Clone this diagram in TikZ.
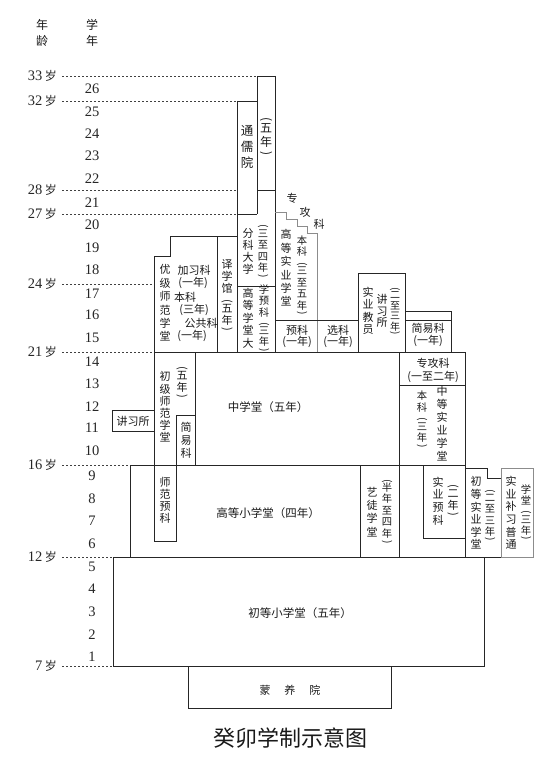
\documentclass[tikz,border=0pt]{standalone}
\usepackage{graphicx}
\usepackage{fontspec}
\setmainfont{Liberation Serif}
\newfontfamily\cjk{Noto Sans CJK SC}
\newcommand\lpv{\rotatebox[origin=c]{-90}{(}}
\newcommand\rpv{\rotatebox[origin=c]{-90}{)}}
\begin{document}
\begin{tikzpicture}[x=1pt,y=-1pt,
  ln/.style={line width=0.8pt, draw=black!85},
  gln/.style={line width=0.9pt, draw=black!45},
  guide/.style={line width=0.6pt, draw=black!75, dash pattern=on 2pt off 2pt},
  vt/.style={align=center, inner sep=0pt, text=black!90, font=\cjk\fontsize{11}{#1}\selectfont},
  vt/.default=13,
  vs/.style={align=center, inner sep=0pt, text=black!90, font=\cjk\fontsize{10.3}{#1}\selectfont},
  ht/.style={inner sep=0pt, text=black!90, font=\cjk\fontsize{11}{13}\selectfont},
  num/.style={inner sep=0pt, text=black!85, font=\fontsize{14.5}{16}\selectfont},
  agel/.style={inner sep=0pt, anchor=east, text=black!85, font=\fontsize{14.5}{16}\selectfont}]
\path[use as bounding box] (0,0) rectangle (547,762);

% header
\node[vt=16, font=\cjk\fontsize{12}{16}\selectfont] (hage) at (42,33) {年\\龄};
\node[vt=16, font=\cjk\fontsize{12}{16}\selectfont] (hyear) at (92,33) {学\\年};

% year numbers
\foreach \n/\y in {26/89,25/112,24/134,23/156,22/179,21/203,20/225,19/248,18/270,17/294,16/315,15/338,14/362,13/384,12/407,11/428,10/451,9/476,8/499,7/521,6/544,5/567,4/589,3/612,2/635,1/657}
  \node[num] (yr\n) at (92,\y) {\n};

% age labels and guide lines
\foreach \a/\y/\xe in {33/76/257,32/101/237,28/190/237,27/214/237,24/284/154,21/352/154,16/465/130,12/557/113,7/666/113}{
  \node[agel] (age\a) at (57,\y) {\a\,{\cjk\fontsize{12}{14}\selectfont 岁}};
  \draw[guide] (62,\y) -- (\xe,\y);
}

% ---------- box outlines ----------
\draw[ln] (257,76) -- (275,76);
\draw[ln] (237,101) -- (257,101);
\draw[ln] (257,190) -- (275,190);
\draw[ln] (237,214) -- (257,214);
\draw[ln] (257,76) -- (257,214);
\draw[ln] (237,101) -- (237,352);
\draw[ln] (275,76) -- (275,352);
\draw[ln] (237,286) -- (275,286);
\draw[ln] (154,352) -- (154,256) -- (170,256) -- (170,236) -- (237,236);
\draw[ln] (217,236) -- (217,352);
\draw[gln] (275,212) -- (286,212) -- (286,219) -- (297,219) -- (297,226) -- (307,226) -- (307,233) -- (317,233) -- (317,352);
\draw[ln] (275,320) -- (358,320);
\draw[ln] (358,352) -- (358,273) -- (405,273) -- (405,352);
\draw[ln] (405,311) -- (451,311) -- (451,352);
\draw[ln] (405,320) -- (451,320);
\draw[ln] (154,352) -- (465,352);
\draw[ln] (154,352) -- (154,541) -- (176,541) -- (176,415) -- (195,415);
\draw[ln] (195,352) -- (195,465);
\draw[ln] (112,410) rectangle (154,431);
\draw[ln] (399,352) -- (399,557);
\draw[ln] (399,385) -- (465,385);
\draw[ln] (465,352) -- (465,557);
\draw[ln] (130,557) -- (130,465) -- (465,465);
\draw[ln] (360,465) -- (360,557);
\draw[ln] (423,465) -- (423,538) -- (465,538);
\draw[ln] (465,468) -- (487,468) -- (487,478) -- (501,478);
\draw[ln] (113,557) -- (501,557);
\draw[gln] (501,468) rectangle (533,557);
\draw[ln] (113,557) rectangle (484,666);
\draw[ln] (188,666) rectangle (391,708);

% ---------- texts ----------
\node[vt=16, font=\cjk\fontsize{12.5}{16}\selectfont] (tongru) at (247,147) {通\\儒\\院};
\node[vt=14, font=\cjk\fontsize{12}{14}\selectfont] (tongru2) at (266,137) {\lpv\\[-4pt]五\\年\\[-4pt]\rpv};
\node[vt=12] (fenke) at (248,251) {分\\科\\大\\学};
\node[vs=11.5] (fenke2) at (263,252) {\lpv\\[-4pt]三\\至\\四\\年\\[-4pt]\rpv};
\node[vt=12.5] (gdxt) at (248,318) {高\\等\\学\\堂\\大};
\node[vs=11.3] (gdxt2) at (264,319) {学\\预\\科\\\lpv\\[-4pt]三\\年\\[-4pt]\rpv};
\node[vt=12] (yixue) at (227,296) {译\\学\\馆\\\lpv\\[-4pt]五\\年\\[-4pt]\rpv};
\node[vt=13.4] (youji) at (165,303) {优\\级\\师\\范\\学\\堂};
\node[ht] (yj1) at (194,270) {加习科};
\node[ht] (yj2) at (193,283) {(一年)};
\node[ht] (yj3) at (185,297) {本科};
\node[ht] (yj4) at (194,310) {(三年)};
\node[ht] (yj5) at (201,323) {公共科};
\node[ht] (yj6) at (192,336) {(一年)};
\node[vt=13.4] (gdsy) at (286,268) {高\\等\\实\\业\\学\\堂};
\node[vs=11.5] (gdsy2) at (302,276) {本\\科\\\lpv\\[-4pt]三\\至\\五\\年\\[-4pt]\rpv};
\node[ht] (zg1) at (292,198) {专};
\node[ht] (zg2) at (305,212) {攻};
\node[ht] (zg3) at (319,224) {科};
\node[ht] (yuke) at (297,330) {预科};
\node[ht] (yuke2) at (297,342) {(一年)};
\node[ht] (xuanke) at (338,330) {选科};
\node[ht] (xuanke2) at (338,342) {(一年)};
\node[vt=12.5] (syjy) at (368,311) {实\\业\\教\\员};
\node[vt=11.5] (jxs) at (382,311) {讲\\习\\所};
\node[vs=10.5, font=\cjk\fontsize{10}{10.5}\selectfont] (jxs2) at (395,312) {\lpv\\[-4pt]二\\至\\三\\年\\[-4pt]\rpv};
\node[ht] (jyk) at (428,328) {简易科};
\node[ht] (jyk2) at (428,341) {(一年)};
% middle row
\node[ht] (zgk) at (433,363) {专攻科};
\node[ht] (zgk2) at (433,377) {(一至二年)};
\node[vt=13] (zdsy) at (442,424) {中\\等\\实\\业\\学\\堂};
\node[vs=11.5] (zdsy2) at (422,420) {本\\科\\\lpv\\[-4pt]三\\年\\[-4pt]\rpv};
\node[ht, font=\cjk\fontsize{11.5}{13}\selectfont] (zxt) at (268,407) {中学堂（五年）};
\node[vt=12.2] (cjsf) at (165,407) {初\\级\\师\\范\\学\\堂};
\node[vt=12] (cjsf2) at (182,383) {\lpv\\[-4pt]五\\年\\[-4pt]\rpv};
\node[vt=13] (jyk3) at (186,440) {简\\易\\科};
\node[ht] (jxs3) at (133,421) {讲习所};
% lower row
\node[vt=12] (sfyk) at (165,500) {师\\范\\预\\科};
\node[ht, font=\cjk\fontsize{11.5}{13}\selectfont] (gdxx) at (268,513) {高等小学堂（四年）};
\node[vt=13.3] (ytxt) at (372,512) {艺\\徒\\学\\堂};
\node[vs=11.5] (ytxt2) at (387,512) {\lpv\\[-4pt]半\\年\\至\\四\\年\\[-4pt]\rpv};
\node[vt=12.7] (syyk) at (438,501) {实\\业\\预\\科};
\node[vt=12] (syyk2) at (453,501) {\lpv\\[-4pt]二\\年\\[-4pt]\rpv};
\node[vt=12.6] (cdsy) at (476,513) {初\\等\\实\\业\\学\\堂};
\node[vs=11.3] (cdsy2) at (490,516) {\lpv\\[-4pt]二\\至\\三\\年\\[-4pt]\rpv};
\node[vt=12.6] (sybx) at (511,513) {实\\业\\补\\习\\普\\通};
\node[vs=11.3] (sybx2) at (526,513) {学\\堂\\\lpv\\[-4pt]三\\年\\[-4pt]\rpv};
\node[ht, font=\cjk\fontsize{11.5}{13}\selectfont] (cdxx) at (300,613) {初等小学堂（五年）};
\node[ht] (myy) at (290,690) {蒙\hspace{14pt}养\hspace{14pt}院};
\node[inner sep=0pt, text=black!90, font=\cjk\fontsize{22}{26}\selectfont] (title) at (290,738) {癸卯学制示意图};
\end{tikzpicture}
\end{document}
